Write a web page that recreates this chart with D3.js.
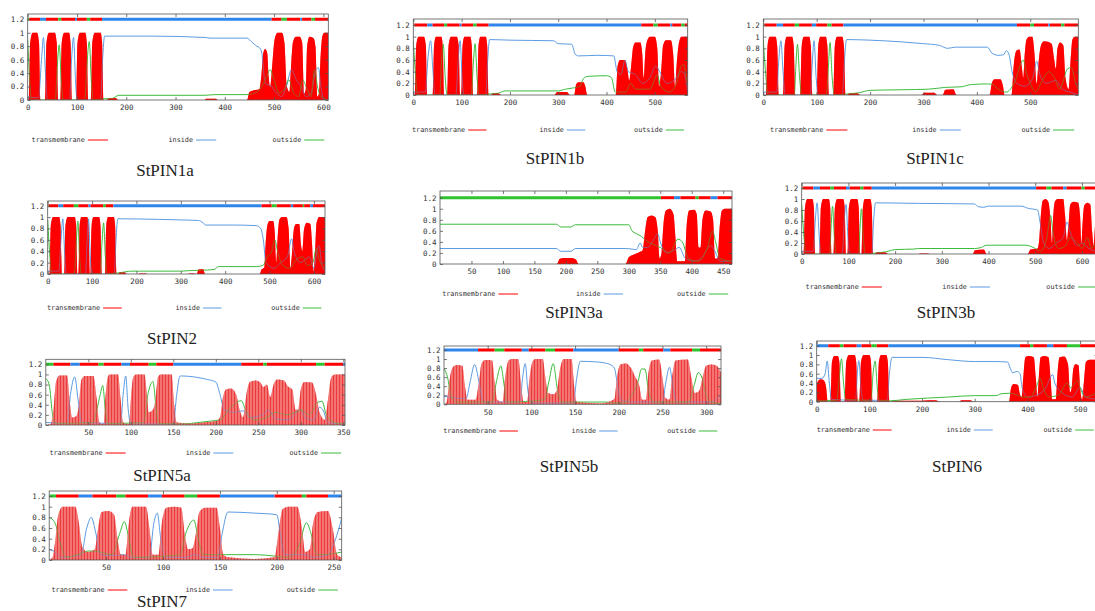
<!DOCTYPE html>
<html>
<head>
<meta charset="utf-8">
<script src="https://cdn.jsdelivr.net/npm/d3@7"></script>
<style>
  html, body { margin: 0; padding: 0; background: #fff; }
  svg { display: block; }
  .tick text { font-family: "DejaVu Sans Mono", monospace; fill: #333; }
</style>
</head>
<body>
<svg id="chart" width="1095" height="611"></svg>
<script>
// ---- data: [residue, probability] ----
const pin1aTm = [[0,0],[2,0],[5,.85],[10,1],[19,1],[23,.85],[26,0],[35,0],[38,.85],[43,1],[55,1],[59,.85],[62,0],[66,0],[69,.85],[74,1],[84,1],[87,.85],[90,0],[98,0],[101,.85],[106,1],[117,1],[120,.85],[123,0],[128,0],[131,.85],[136,1],[148,1],[151,.85],[154,0],[160,0],[166,.03],[178,.03],[184,0],[358,0],[362,.02],[382,.02],[386,0],[445,0],[450,.12],[462,.15],[470,.16],[474,.35],[478,.7],[482,.76],[486,.7],[489,.35],[492,.2],[496,.5],[501,.9],[507,1],[516,1],[521,.85],[526,.2],[531,.12],[534,.45],[538,.85],[544,.94],[552,.94],[557,.85],[561,.1],[564,.15],[567,.8],[572,.94],[580,.92],[584,.8],[588,.05],[591,.1],[594,.6],[598,.95],[602,1],[610,1]]
const pin1aIn = [[0,.05],[22,.03],[28,.6],[32,.93],[36,.4],[40,0],[85,0],[89,.6],[93,.93],[97,.3],[100,0],[148,0],[152,.6],[156,.95],[250,.95],[360,.93],[370,.92],[445,.92],[455,.86],[465,.8],[470,.78],[475,.7],[482,.25],[495,.2],[505,.1],[515,.05],[525,.2],[535,.45],[545,.3],[555,.2],[565,.05],[575,.1],[585,.45],[590,.48],[595,.2],[600,.02],[610,0]]
const pin1aOut = [[0,.9],[4,.3],[8,0],[56,0],[60,.5],[64,.82],[68,.3],[72,0],[116,0],[120,.5],[125,.87],[129,.3],[133,0],[156,.02],[170,.02],[185,.07],[360,.07],[380,.08],[445,.08],[460,.1],[475,.2],[485,.35],[492,.45],[500,.3],[510,.1],[520,.15],[530,.3],[540,.1],[550,.05],[558,.3],[565,.2],[575,.05],[582,.45],[588,.2],[595,.05],[610,0]]
const pin1aBar = [[0,3,'o'],[3,25,'t'],[25,37,'i'],[37,62,'t'],[62,68,'o'],[68,96,'t'],[96,100,'i'],[100,120,'t'],[120,127,'o'],[127,151,'t'],[151,495,'i'],[495,515,'t'],[515,526,'o'],[526,553,'t'],[553,557,'i'],[557,576,'t'],[576,583,'o'],[583,610,'t']]
const pin1aTicks = [0,100,200,300,400,500,600]

const pin1bTm = [[0,0],[3,0],[6,.85],[11,1],[22,1],[26,.85],[29,0],[40,0],[43,.85],[47,1],[58,1],[61,.85],[64,0],[70,0],[73,.85],[78,1],[90,1],[94,.85],[97,0],[99,0],[102,.85],[106,1],[118,1],[121,.85],[124,0],[132,0],[135,.85],[139,1],[150,1],[153,.85],[156,0],[160,0],[166,.03],[176,.03],[182,0],[292,0],[298,.05],[318,.05],[324,0],[333,0],[337,.18],[342,.22],[352,.22],[356,.15],[360,0],[419,0],[423,.5],[428,.6],[438,.6],[443,.45],[447,.25],[451,.5],[455,.82],[460,.9],[470,.9],[474,.7],[477,.3],[480,.7],[485,.95],[490,1],[500,1],[505,.8],[509,.15],[513,.4],[517,.85],[523,.94],[533,.94],[538,.7],[542,.15],[545,.5],[550,.9],[555,1],[568,1]]
const pin1bIn = [[0,.05],[25,.05],[30,.6],[36,.93],[40,.5],[45,0],[88,0],[93,.6],[97,.93],[101,.3],[105,0],[150,0],[154,.6],[158,.95],[200,.94],[290,.93],[300,.88],[328,.87],[335,.7],[342,.67],[380,.68],[415,.67],[422,.4],[430,.35],[438,.6],[445,.4],[460,.35],[475,.2],[490,.3],[502,.5],[510,.4],[525,.2],[540,.25],[555,.4],[560,.38],[568,.05]]
const pin1bOut = [[0,.93],[5,.3],[9,0],[55,0],[58,.5],[62,.87],[66,.3],[70,0],[120,0],[124,.5],[128,.88],[132,.3],[136,0],[160,.02],[175,.03],[190,.07],[300,.07],[315,.1],[330,.12],[345,.15],[352,.28],[362,.32],[400,.33],[410,.3],[418,.05],[440,.05],[450,.2],[460,.1],[490,.1],[505,.35],[512,.15],[530,.05],[545,.2],[555,.5],[560,.52],[565,.3],[568,.2]]
const pin1bBar = [[0,2,'o'],[2,29,'t'],[29,40,'i'],[40,64,'t'],[64,70,'o'],[70,96,'t'],[96,100,'i'],[100,124,'t'],[124,131,'o'],[131,156,'t'],[156,472,'i'],[472,497,'t'],[497,506,'o'],[506,532,'t'],[532,536,'i'],[536,555,'t'],[555,562,'o'],[562,568,'t']]
const pin1bTicks = [0,100,200,300,400,500]

const pin1cTm = [[0,0],[5,0],[8,.85],[12,1],[23,1],[26,.85],[29,0],[37,0],[40,.85],[44,1],[54,1],[57,.85],[60,0],[69,0],[72,.85],[76,1],[86,1],[89,.85],[92,0],[100,0],[103,.85],[107,1],[117,1],[120,.85],[123,0],[131,0],[134,.85],[138,1],[148,1],[151,.85],[154,0],[156,0],[162,.03],[176,.03],[182,0],[296,0],[302,.04],[320,.04],[326,0],[336,0],[341,.09],[356,.1],[362,0],[424,0],[428,.2],[433,.27],[444,.27],[449,.15],[452,0],[465,0],[469,.5],[474,.76],[480,.78],[484,.5],[487,.3],[489,.6],[493,.95],[498,1],[504,1],[508,.7],[512,.2],[515,.5],[520,.85],[526,.92],[540,.88],[545,.6],[548,.45],[551,.8],[556,.9],[562,.85],[566,.3],[572,.1],[575,.5],[579,.95],[583,1],[590,1]]
const pin1cIn = [[0,.05],[25,.05],[29,.6],[33,.93],[37,.4],[41,0],[88,0],[92,.6],[95,.93],[99,.3],[103,0],[148,0],[152,.6],[156,.95],[200,.94],[260,.91],[300,.88],[330,.85],[345,.8],[360,.82],[420,.82],[428,.72],[440,.68],[450,.69],[455,.76],[460,.7],[466,.4],[475,.2],[490,.15],[505,.3],[512,.58],[518,.35],[530,.2],[548,.25],[560,.1],[575,.05],[590,0]]
const pin1cOut = [[0,.95],[5,.3],[9,0],[58,0],[61,.5],[64,.87],[68,.3],[72,0],[118,0],[122,.5],[125,.9],[129,.3],[133,0],[160,.02],[180,.04],[200,.08],[260,.09],[310,.1],[340,.13],[370,.14],[390,.18],[420,.19],[430,.18],[440,.1],[455,.05],[470,.2],[487,.6],[492,.4],[500,.2],[510,.05],[520,.2],[535,.4],[545,.3],[555,.1],[570,.45],[577,.47],[585,.2],[590,.1]]
const pin1cBar = [[0,2,'o'],[2,25,'t'],[25,37,'i'],[37,59,'t'],[59,67,'o'],[67,91,'t'],[91,99,'i'],[99,120,'t'],[120,128,'o'],[128,150,'t'],[150,475,'i'],[475,500,'t'],[500,507,'o'],[507,534,'t'],[534,537,'i'],[537,558,'t'],[558,564,'o'],[564,590,'t']]
const pin1cTicks = [0,100,200,300,400,500]

const pin2Tm = [[0,0],[4,0],[7,.85],[12,1],[26,1],[29,.85],[32,0],[37,0],[40,.85],[45,1],[61,1],[64,.85],[67,0],[69,0],[72,.85],[76,1],[89,1],[92,.85],[95,0],[96,0],[99,.85],[103,1],[116,1],[119,.85],[122,0],[129,0],[132,.85],[136,1],[149,1],[152,.85],[155,0],[158,0],[163,.03],[173,.03],[178,0],[204,0],[208,.01],[220,.01],[224,0],[316,0],[320,.01],[330,.01],[334,0],[336,0],[340,.08],[350,.09],[355,0],[478,0],[482,.08],[488,.1],[491,.5],[495,.85],[500,.93],[508,.93],[512,.7],[515,.2],[518,.6],[522,.95],[528,1],[538,1],[543,.8],[547,.1],[551,.4],[555,.8],[560,.88],[567,.88],[571,.5],[574,.4],[578,.8],[584,.9],[592,.88],[596,.5],[599,.05],[602,.3],[606,.9],[612,1],[625,1]]
const pin2In = [[0,.05],[25,.05],[30,.6],[34,.97],[38,.4],[42,0],[85,0],[89,.6],[92,.97],[96,.3],[100,0],[150,0],[154,.6],[158,.97],[250,.96],[300,.95],[340,.94],[350,.9],[356,.86],[420,.86],[470,.85],[480,.8],[486,.6],[492,.2],[510,.1],[525,.2],[540,.3],[550,.62],[555,.4],[570,.2],[590,.3],[600,.1],[608,.45],[612,.5],[617,.2],[625,.05]]
const pin2Out = [[0,.95],[5,.3],[9,0],[60,0],[64,.5],[68,.93],[72,.3],[76,0],[118,0],[122,.5],[126,.9],[130,.3],[134,0],[160,.02],[190,.05],[300,.05],[320,.06],[360,.07],[375,.08],[385,.13],[470,.13],[485,.15],[495,.3],[505,.4],[512,.6],[518,.4],[530,.15],[545,.1],[560,.25],[575,.3],[585,.15],[598,.2],[605,.45],[612,.25],[625,.1]]
const pin2Bar = [[0,2,'o'],[2,24,'t'],[24,35,'i'],[35,59,'t'],[59,69,'o'],[69,92,'t'],[92,97,'i'],[97,125,'t'],[125,131,'o'],[131,148,'t'],[148,482,'i'],[482,505,'t'],[505,516,'o'],[516,548,'t'],[548,553,'i'],[553,575,'t'],[575,578,'o'],[578,592,'t'],[592,598,'i'],[598,625,'t']]
const pin2Ticks = [0,100,200,300,400,500,600]

const pin3aTm = [[0,0],[186,0],[190,.09],[196,.11],[210,.11],[216,.08],[220,0],[295,0],[300,.12],[310,.18],[318,.22],[322,.25],[326,.6],[330,.85],[336,.88],[342,.85],[346,.6],[349,.1],[352,.2],[355,.7],[359,.97],[365,1],[371,.9],[374,.5],[377,.05],[389,.05],[392,.7],[396,.97],[404,.98],[408,.9],[411,.3],[414,.3],[417,.8],[422,.97],[430,.95],[434,.8],[437,.1],[441,.1],[444,.6],[448,.97],[452,1],[464,1]]
const pin3aIn = [[0,.28],[185,.28],[192,.23],[208,.23],[215,.28],[295,.28],[305,.27],[312,.26],[318,.38],[322,.3],[330,.3],[340,.45],[346,.55],[350,.4],[360,.2],[372,.25],[380,.3],[390,.1],[405,.05],[415,.1],[430,.33],[436,.25],[445,.05],[464,.05]]
const pin3aOut = [[0,.72],[185,.72],[192,.67],[208,.67],[215,.71],[300,.71],[305,.6],[312,.55],[320,.5],[328,.42],[340,.35],[350,.3],[365,.2],[378,.45],[385,.4],[395,.1],[410,.05],[425,.3],[433,.6],[438,.4],[445,.1],[464,.05]]
const pin3aBar = [[0,351,'o'],[351,372,'t'],[372,382,'i'],[382,406,'t'],[406,411,'o'],[411,430,'t'],[430,441,'i'],[441,464,'t']]
const pin3aTicks = [50,100,150,200,250,300,350,400,450]

const pin3bTm = [[0,0],[4,0],[7,.85],[12,1],[23,1],[26,.85],[29,0],[38,0],[41,.85],[46,1],[58,1],[61,.85],[64,0],[68,0],[71,.85],[76,1],[89,1],[92,.85],[95,0],[98,0],[101,.85],[106,1],[119,1],[122,.85],[125,0],[128,0],[131,.85],[135,1],[147,1],[150,.85],[153,0],[156,0],[162,.03],[178,.03],[185,0],[250,0],[255,.01],[270,.01],[274,0],[366,0],[371,.07],[390,.08],[396,0],[484,0],[490,.08],[505,.1],[509,.3],[512,.7],[516,.97],[522,1],[528,.95],[533,.6],[536,.2],[538,.6],[542,.95],[548,1],[560,1],[564,.7],[568,.25],[571,.5],[575,.9],[582,.95],[592,.93],[596,.7],[599,.2],[601,.5],[605,.88],[612,.93],[618,.9],[622,.4],[625,.15],[628,.5],[631,.8],[636,1],[643,1]]
const pin3bIn = [[0,.05],[25,.05],[29,.6],[33,.93],[37,.4],[41,0],[87,0],[91,.6],[95,.9],[99,.3],[103,0],[150,0],[154,.6],[158,.93],[250,.92],[370,.91],[378,.86],[390,.85],[400,.87],[470,.87],[485,.83],[505,.8],[510,.6],[518,.2],[530,.1],[545,.2],[560,.3],[568,.58],[575,.4],[590,.15],[600,.2],[615,.1],[631,.05],[643,.05]]
const pin3bOut = [[0,.9],[5,.3],[9,0],[60,0],[63,.5],[66,.87],[70,.3],[74,0],[122,0],[125,.5],[128,.82],[132,.3],[136,0],[160,.02],[180,.04],[200,.08],[240,.09],[250,.1],[300,.1],[370,.1],[385,.12],[395,.16],[480,.16],[490,.14],[500,.1],[512,.05],[525,.3],[533,.7],[538,.4],[550,.1],[565,.15],[575,.3],[590,.2],[600,.1],[612,.3],[620,.1],[631,.2],[643,.15]]
const pin3bBar = [[0,2,'o'],[2,25,'t'],[25,39,'i'],[39,61,'t'],[61,69,'o'],[69,95,'t'],[95,103,'i'],[103,125,'t'],[125,132,'o'],[132,150,'t'],[150,502,'i'],[502,524,'t'],[524,535,'o'],[535,560,'t'],[560,567,'i'],[567,599,'t'],[599,606,'o'],[606,643,'t']]
const pin3bTicks = [0,100,200,300,400,500,600]

const pin5aTm = [[0,0],[6,.02],[9,.3],[12,.85],[16,.98],[25,.98],[28,.5],[31,.15],[36,.18],[39,.4],[42,.9],[46,.97],[56,.97],[60,.5],[63,.05],[68,.02],[70,.5],[73,.95],[75,1],[85,1],[88,.5],[91,.05],[98,.02],[100,.5],[103,.95],[106,1],[116,1],[119,.6],[121,.25],[126,.3],[129,.5],[132,.95],[135,1],[148,1],[151,.4],[154,.05],[170,.03],[190,.06],[200,.08],[205,.15],[208,.5],[212,.7],[218,.72],[224,.6],[228,.3],[232,.15],[236,.6],[240,.85],[247,.88],[252,.85],[256,.75],[260,.8],[264,.55],[268,.8],[272,.9],[280,.88],[285,.76],[290,.7],[294,.3],[297,.3],[300,.7],[304,.85],[313,.84],[318,.6],[322,.25],[328,.1],[332,.5],[336,.95],[340,1],[352,1]]
const pin5aIn = [[0,.05],[25,.03],[29,.6],[34,.95],[38,.5],[42,.05],[88,.03],[91,.6],[94,.97],[97,.3],[100,.02],[150,.02],[154,.6],[158,.97],[175,.95],[190,.9],[200,.85],[205,.6],[210,.3],[220,.25],[232,.28],[240,.15],[255,.2],[262,.3],[270,.12],[285,.1],[300,.3],[305,.15],[315,.1],[322,.35],[326,.3],[332,.05],[352,.02]]
const pin5aOut = [[0,.92],[4,.8],[8,.2],[12,.03],[55,.05],[60,.3],[64,.6],[67,.78],[70,.3],[73,.03],[115,.05],[120,.6],[126,.86],[130,.3],[133,.03],[160,.02],[180,.05],[195,.08],[205,.1],[215,.3],[230,.48],[235,.3],[245,.1],[260,.15],[270,.25],[285,.2],[300,.3],[310,.2],[320,.45],[325,.47],[330,.2],[340,.05],[352,.02]]
const pin5aBar = [[0,9,'o'],[9,29,'t'],[29,40,'i'],[40,62,'t'],[62,68,'o'],[68,89,'t'],[89,99,'i'],[99,121,'t'],[121,130,'o'],[130,150,'t'],[150,230,'i'],[230,256,'t'],[256,260,'o'],[260,318,'t'],[318,328,'o'],[328,350,'t'],[350,352,'i']]
const pin5aTicks = [50,100,150,200,250,300,350]

const pin5bTm = [[0,0],[3,.05],[6,.5],[10,.82],[15,.87],[21,.85],[24,.4],[27,.1],[36,.1],[40,.5],[43,.9],[47,.98],[55,.97],[58,.5],[61,.1],[67,.05],[70,.6],[74,.97],[78,1],[85,1],[88,.5],[91,.05],[95,.05],[98,.6],[102,.97],[105,1],[113,1],[116,.6],[119,.25],[125,.22],[129,.3],[133,.8],[137,1],[146,1],[149,.4],[152,.05],[180,.02],[188,.05],[195,.12],[198,.6],[202,.88],[208,.9],[214,.8],[219,.6],[223,.45],[227,.1],[231,.1],[234,.7],[238,.97],[246,.99],[250,.6],[253,.15],[258,.1],[261,.6],[265,.97],[279,.99],[283,.6],[287,.25],[292,.3],[296,.6],[300,.85],[306,.88],[312,.85],[317,.7]]
const pin5bIn = [[0,.18],[10,.15],[25,.12],[30,.5],[35,.88],[40,.5],[45,.05],[87,.05],[90,.6],[93,.9],[96,.3],[100,.03],[148,.03],[152,.6],[156,.95],[172,.94],[182,.92],[190,.88],[195,.8],[198,.5],[202,.1],[215,.05],[250,.05],[254,.5],[258,.82],[262,.4],[266,.05],[305,.05],[317,.2]]
const pin5bOut = [[0,.8],[4,.6],[8,.2],[14,.05],[55,.05],[60,.5],[65,.85],[69,.4],[72,.05],[115,.1],[120,.5],[125,.9],[130,.3],[135,.05],[160,.05],[185,.05],[195,.03],[205,.03],[215,.2],[222,.5],[226,.78],[230,.78],[234,.3],[240,.05],[280,.05],[286,.4],[291,.7],[295,.6],[300,.2],[305,.05],[317,.02]]
const pin5bBar = [[0,39,'i'],[39,58,'t'],[58,69,'o'],[69,89,'t'],[89,97,'i'],[97,116,'t'],[116,127,'o'],[127,148,'t'],[148,200,'i'],[200,223,'t'],[223,228,'o'],[228,251,'t'],[251,259,'i'],[259,284,'t'],[284,293,'o'],[293,317,'t']]
const pin5bTicks = [50,100,150,200,250,300]

const pin6Tm = [[0,.38],[3,.45],[8,.48],[14,.45],[18,.3],[21,0],[26,0],[29,.85],[33,.98],[40,.98],[43,.85],[46,0],[53,0],[56,.85],[61,1],[72,1],[75,.85],[78,0],[81,0],[84,.85],[89,1],[100,1],[103,.85],[106,0],[115,0],[118,.85],[122,1],[132,1],[135,.85],[138,0],[140,0],[150,.02],[200,.02],[212,.03],[225,.03],[235,0],[270,0],[275,.03],[292,.03],[297,0],[365,0],[369,.3],[374,.38],[382,.36],[386,.15],[389,.1],[392,.5],[396,.95],[402,.98],[412,.95],[416,.5],[419,.1],[421,.4],[425,.95],[432,.98],[440,.95],[444,.5],[447,.05],[454,.05],[457,.6],[461,.95],[470,.97],[477,.8],[481,.2],[484,.3],[487,.7],[491,.8],[497,.78],[500,.3],[504,.05],[507,.4],[511,.85],[518,.9],[533,.9]]
const pin6In = [[0,.5],[10,.5],[16,.6],[20,.87],[24,.4],[28,.05],[74,.03],[77,.6],[80,.88],[84,.3],[88,.03],[134,.03],[138,.6],[143,.95],[200,.95],[250,.9],[300,.86],[340,.86],[362,.85],[368,.7],[372,.62],[380,.65],[386,.6],[390,.3],[400,.1],[420,.15],[435,.3],[448,.58],[452,.4],[465,.2],[485,.1],[500,.3],[510,.1],[533,.05]]
const pin6Out = [[0,.02],[38,.03],[42,.4],[47,.92],[51,.4],[55,.05],[103,.03],[107,.6],[111,.87],[115,.3],[119,.03],[140,.02],[170,.05],[250,.1],[300,.13],[340,.13],[350,.17],[365,.18],[380,.15],[390,.1],[405,.1],[418,.35],[424,.5],[430,.3],[440,.1],[460,.15],[475,.4],[482,.3],[495,.45],[500,.3],[510,.1],[533,.2]]
const pin6Bar = [[0,22,'i'],[22,44,'t'],[44,51,'o'],[51,76,'t'],[76,85,'i'],[85,104,'t'],[104,114,'o'],[114,136,'t'],[136,386,'i'],[386,405,'t'],[405,411,'o'],[411,437,'t'],[437,449,'i'],[449,475,'t'],[475,500,'o'],[500,533,'t']]
const pin6Ticks = [0,100,200,300,400,500]

const pin7Tm = [[0,0],[3,.05],[5,.3],[8,.85],[12,1],[23,1],[26,.7],[29,.25],[34,.15],[40,.2],[43,.6],[46,.9],[52,.92],[57,.85],[60,.4],[63,.1],[67,.1],[70,.7],[73,1],[85,1],[88,.6],[91,.1],[96,.1],[99,.7],[103,.98],[110,1],[116,.98],[119,.5],[122,.2],[126,.22],[129,.5],[132,.9],[137,.98],[147,.98],[150,.6],[153,.1],[158,.05],[180,.02],[198,.05],[202,.6],[205,.95],[210,1],[218,1],[222,.6],[225,.15],[229,.2],[232,.7],[236,.9],[245,.92],[249,.6],[253,.1],[257,.05]]
const pin7In = [[0,.2],[5,.15],[10,.05],[28,.1],[33,.6],[37,.8],[41,.5],[45,.1],[55,.08],[65,.1],[72,.05],[88,.05],[92,.7],[95,.88],[98,.4],[102,.05],[120,.05],[128,.1],[135,.05],[148,.05],[152,.5],[157,.9],[180,.88],[200,.85],[203,.5],[207,.1],[225,.1],[232,.05],[245,.1],[250,.3],[257,.78]]
const pin7Out = [[0,.8],[5,.7],[10,.3],[15,.05],[25,.1],[35,.17],[45,.15],[55,.1],[62,.5],[66,.72],[70,.4],[74,.05],[115,.1],[120,.5],[127,.75],[131,.4],[135,.1],[155,.1],[180,.1],[200,.07],[210,.05],[220,.3],[226,.7],[230,.5],[235,.1],[250,.12],[257,.15]]
const pin7Bar = [[0,6,'o'],[6,26,'t'],[26,38,'i'],[38,59,'t'],[59,67,'o'],[67,87,'t'],[87,99,'i'],[99,119,'t'],[119,130,'o'],[130,150,'t'],[150,198,'i'],[198,222,'t'],[222,226,'o'],[226,245,'t'],[245,257,'i']]
const pin7Ticks = [50,100,150,200,250]

const yTicks = [0, 0.2, 0.4, 0.6, 0.8, 1, 1.2]
const legendLabels = ['transmembrane', 'inside', 'outside']

// ---- layout of each panel (pixels) ----
const panels = [
  { name: 'StPIN1a', tm: pin1aTm, ins: pin1aIn, out: pin1aOut, bar: pin1aBar, ticks: pin1aTicks, len: 610, left: 27.7, right: 328.3, top: 14, y12: 19.3, base: 100, legendY: 140, tx: 165, ty: 170 },
  { name: 'StPIN1b', tm: pin1bTm, ins: pin1bIn, out: pin1bOut, bar: pin1bBar, ticks: pin1bTicks, len: 568, left: 413.3, right: 687.7, top: 19, y12: 25, base: 95, legendY: 130, tx: 555, ty: 158 },
  { name: 'StPIN1c', tm: pin1cTm, ins: pin1cIn, out: pin1cOut, bar: pin1cBar, ticks: pin1cTicks, len: 590, left: 763.3, right: 1078.3, top: 19, y12: 25, base: 95, legendY: 130, tx: 935, ty: 158 },
  { name: 'StPIN2', tm: pin2Tm, ins: pin2In, out: pin2Out, bar: pin2Bar, ticks: pin2Ticks, len: 625, left: 47.7, right: 325, top: 201, y12: 205.7, base: 274, legendY: 308, tx: 172, ty: 338 },
  { name: 'StPIN3a', tm: pin3aTm, ins: pin3aIn, out: pin3aOut, bar: pin3aBar, ticks: pin3aTicks, len: 464, left: 440, right: 732, top: 191, y12: 197.7, base: 264, legendY: 294, tx: 574, ty: 312 },
  { name: 'StPIN3b', tm: pin3bTm, ins: pin3bIn, out: pin3bOut, bar: pin3bBar, ticks: pin3bTicks, len: 643, left: 801.7, right: 1102, top: 183, y12: 188, base: 254, legendY: 287, tx: 946, ty: 312 },
  { name: 'StPIN5a', tm: pin5aTm, ins: pin5aIn, out: pin5aOut, bar: pin5aBar, ticks: pin5aTicks, len: 352, left: 45.8, right: 345, top: 359.3, y12: 364.3, base: 425, legendY: 453, tx: 162, ty: 475, hatched: true },
  { name: 'StPIN5b', tm: pin5bTm, ins: pin5bIn, out: pin5bOut, bar: pin5bBar, ticks: pin5bTicks, len: 317, left: 444, right: 721, top: 346, y12: 350, base: 404.3, legendY: 431, tx: 569, ty: 466, hatched: true },
  { name: 'StPIN6', tm: pin6Tm, ins: pin6In, out: pin6Out, bar: pin6Bar, ticks: pin6Ticks, len: 533, left: 816.7, right: 1097.5, top: 341, y12: 345.7, base: 401.7, legendY: 430, tx: 957, ty: 466 },
  { name: 'StPIN7', tm: pin7Tm, ins: pin7In, out: pin7Out, bar: pin7Bar, ticks: pin7Ticks, len: 257, left: 49.2, right: 341.7, top: 491, y12: 496, base: 560, legendY: 590, tx: 162, ty: 601, hatched: true },
]

const barColor = { t: '#ff0000', i: '#2f86ea', o: '#2fc42f' }
const inColor = '#5b9be2'
const outColor = '#3dbb3d'
const legendColors = ['#ff0000', inColor, outColor]

const svg = d3.select('#chart')
const defs = svg.append('defs')

// light red fill with vertical impulse stripes
const hatch = defs.append('pattern')
  .attr('id', 'hatch')
  .attr('patternUnits', 'userSpaceOnUse')
  .attr('width', 3)
  .attr('height', 20)
hatch.append('rect').attr('width', 3).attr('height', 20).attr('fill', '#f47474')
hatch.append('line')
  .attr('x1', 0.5).attr('x2', 0.5).attr('y1', 0).attr('y2', 20)
  .attr('stroke', '#e42222').attr('stroke-width', 0.7)

panels.forEach((p, k) => {
  const x = d3.scaleLinear().domain([0, p.len]).range([p.left, p.right])
  const y = d3.scaleLinear().domain([0, 1.2]).range([p.base, p.y12])
  const g = svg.append('g').attr('class', 'panel')

  defs.append('clipPath').attr('id', 'clip' + k)
    .append('rect')
    .attr('x', p.left).attr('y', p.top)
    .attr('width', p.right - p.left).attr('height', p.base - p.top)

  const plot = g.append('g').attr('clip-path', `url(#clip${k})`)

  const area = d3.area()
    .x((d) => x(d[0]))
    .y0(y(0))
    .y1((d) => y(d[1]))
    .curve(d3.curveMonotoneX)
  const line = d3.line()
    .x((d) => x(d[0]))
    .y((d) => y(d[1]))
    .curve(d3.curveMonotoneX)

  const tmFill = p.hatched ? 'url(#hatch)' : '#ff0000'
  plot.append('path').datum(p.tm)
    .attr('d', area)
    .attr('fill', tmFill)
  plot.append('path').datum(p.ins)
    .attr('d', line).attr('fill', 'none')
    .attr('stroke', inColor).attr('stroke-width', 1)
  plot.append('path').datum(p.out)
    .attr('d', line).attr('fill', 'none')
    .attr('stroke', outColor).attr('stroke-width', 1)
  // second, half-transparent pass so the lines look darkened inside the red
  plot.append('path').datum(p.tm)
    .attr('d', area)
    .attr('fill', tmFill)
    .attr('fill-opacity', 0.5)

  plot.selectAll('line.seg')
    .data(p.bar)
    .join('line')
    .attr('class', 'seg')
    .attr('x1', (d) => x(d[0]))
    .attr('x2', (d) => x(d[1]))
    .attr('y1', y(1.2))
    .attr('y2', y(1.2))
    .attr('stroke', (d) => barColor[d[2]])
    .attr('stroke-width', 3)

  // axes, ticks pointing inward like gnuplot
  const fmt = d3.format('~g')
  g.append('g')
    .attr('transform', `translate(0,${p.base})`)
    .call(d3.axisBottom(x).tickValues(p.ticks).tickSizeInner(-3).tickSizeOuter(0).tickPadding(5))
  g.append('g')
    .attr('transform', `translate(0,${p.top})`)
    .call(d3.axisTop(x).tickValues(p.ticks).tickSizeInner(-3).tickSizeOuter(0).tickFormat(''))
  g.append('g')
    .attr('transform', `translate(${p.left},0)`)
    .call(d3.axisLeft(y).tickValues(yTicks).tickSizeInner(-3).tickSizeOuter(0).tickPadding(3.5).tickFormat(fmt))
  g.append('g')
    .attr('transform', `translate(${p.right},0)`)
    .call(d3.axisRight(y).tickValues(yTicks).tickSizeInner(-3).tickSizeOuter(0).tickFormat(''))

  g.selectAll('.domain').remove()
  g.selectAll('.tick line').attr('stroke', '#555').attr('stroke-width', 0.8)
  g.selectAll('.tick text').attr('font-size', 7.5)

  g.append('rect')
    .attr('x', p.left).attr('y', p.top)
    .attr('width', p.right - p.left).attr('height', p.base - p.top)
    .attr('fill', 'none').attr('stroke', '#555').attr('stroke-width', 0.8)

  // legend
  const w = p.right - p.left
  const starts = [0.2, 0.56, 0.92]
  const leg = g.append('g').attr('class', 'legend')
  legendLabels.forEach((lab, i) => {
    const lx = p.left + starts[i] * w
    leg.append('text')
      .attr('x', lx - 3).attr('y', p.legendY)
      .attr('text-anchor', 'end').attr('dominant-baseline', 'central')
      .attr('font-family', '"DejaVu Sans Mono", monospace')
      .attr('font-size', 6.8).attr('fill', '#333')
      .text(lab)
    leg.append('line')
      .attr('x1', lx).attr('x2', lx + 0.067 * w)
      .attr('y1', p.legendY).attr('y2', p.legendY)
      .attr('stroke', legendColors[i]).attr('stroke-width', 1)
  })

  g.append('text')
    .attr('x', p.tx).attr('y', p.ty)
    .attr('text-anchor', 'middle').attr('dominant-baseline', 'central')
    .attr('font-family', '"Liberation Serif", "Times New Roman", serif')
    .attr('font-size', 17).attr('fill', '#222')
    .text(p.name)
})
</script>
</body>
</html>
